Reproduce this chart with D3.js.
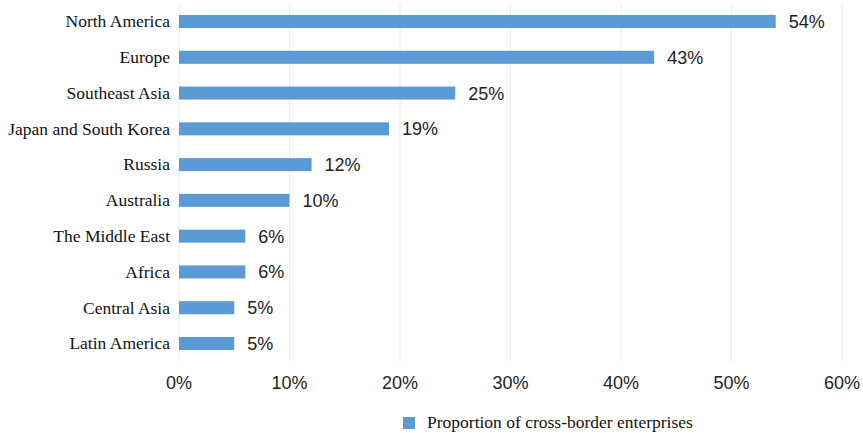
<!DOCTYPE html>
<html><head><meta charset="utf-8">
<script src="https://cdn.jsdelivr.net/npm/d3@7"></script>
<style>body{margin:0;background:#fff}</style>
</head><body>
<svg id="c" width="863" height="433"></svg>
<script>
const categories = ["North America","Europe","Southeast Asia","Japan and South Korea","Russia","Australia","The Middle East","Africa","Central Asia","Latin America"];
const values = [54,43,25,19,12,10,6,6,5,5];
const tickValues = [0,10,20,30,40,50,60];
const seriesName = "Proportion of cross-border enterprises";

const svg = d3.select("#c");
const x = d3.scaleLinear().domain([0,60]).range([179,842]);
const y = d3.scaleBand().domain(categories).range([3.6,361.4]).paddingInner(0.636).paddingOuter(0.318);
const color = "#5b9bd5";

svg.append("g").selectAll("line").data(tickValues).join("line")
  .attr("x1",d=>x(d)).attr("x2",d=>x(d)).attr("y1",3.6).attr("y2",361.4)
  .attr("stroke","#ececec").attr("stroke-width",1);

svg.append("g").selectAll("rect").data(values).join("rect")
  .attr("x",x(0)).attr("y",(d,i)=>y(categories[i]))
  .attr("width",d=>x(d)-x(0)).attr("height",y.bandwidth()).attr("fill",color);

svg.append("g").selectAll("text").data(values).join("text")
  .attr("x",d=>x(d)+13).attr("y",(d,i)=>y(categories[i])+y.bandwidth()/2)
  .attr("dy","0.36em").attr("font-family","Liberation Sans, Arial, sans-serif")
  .attr("font-size",18).attr("fill","#222").text(d=>d+"%");

svg.append("g").selectAll("text").data(categories).join("text")
  .attr("x",170).attr("y",d=>y(d)+y.bandwidth()/2).attr("dy","0.33em")
  .attr("text-anchor","end").attr("font-family","Liberation Serif, Times New Roman, serif")
  .attr("font-size",17.5).attr("fill","#111").text(d=>d);

svg.append("g").selectAll("text").data(tickValues).join("text")
  .attr("x",d=>x(d)).attr("y",389).attr("text-anchor","middle")
  .attr("font-family","Liberation Sans, Arial, sans-serif").attr("font-size",18).attr("fill","#222")
  .text(d=>d+"%");

const lg = svg.append("g");
lg.append("rect").attr("x",403).attr("y",417).attr("width",12).attr("height",12).attr("fill",color);
lg.append("text").attr("x",427).attr("y",428).attr("font-family","Liberation Serif, Times New Roman, serif")
  .attr("font-size",17.5).attr("fill","#111").text(seriesName);
</script>
</body></html>
